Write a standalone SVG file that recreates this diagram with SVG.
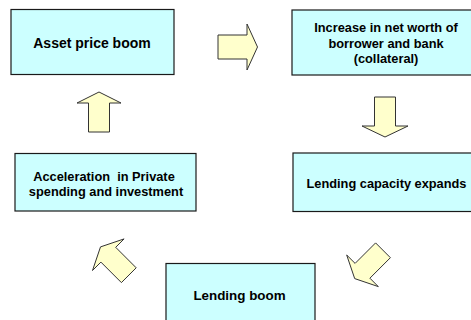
<svg xmlns="http://www.w3.org/2000/svg" width="471" height="320" viewBox="0 0 471 320">
  <style>
    .box { fill: #CCFFFF; stroke: #1a1a1a; stroke-width: 1.2; }
    .lbl { font-family: "Liberation Sans", Arial, sans-serif; font-weight: bold; font-size: 12.8px; fill: #000; text-anchor: middle; white-space: pre; }
    .arrow { fill: #FFFFCC; stroke: #333; stroke-width: 1; stroke-linejoin: miter; }
  </style>
  <rect width="471" height="320" fill="#fff"/>

  <g id="asset-price-boom">
    <rect class="box" x="11" y="9.5" width="163" height="65"/>
    <text class="lbl" x="92" y="48" style="font-size:14px">Asset price boom</text>
  </g>

  <g id="net-worth">
    <rect class="box" x="292" y="10" width="182" height="65"/>
    <text class="lbl" x="386" y="31.5">Increase in net worth of</text>
    <text class="lbl" x="386" y="47.5">borrower and bank</text>
    <text class="lbl" x="386" y="62.5">(collateral)</text>
  </g>

  <g id="lending-capacity">
    <rect class="box" x="293" y="153" width="181" height="58.5"/>
    <text class="lbl" x="386.5" y="188">Lending capacity expands</text>
  </g>

  <g id="lending-boom">
    <rect class="box" x="166" y="263.5" width="149" height="60"/>
    <text class="lbl" x="239.5" y="300" style="font-size:13.4px">Lending boom</text>
  </g>

  <g id="private-spending">
    <rect class="box" x="15" y="153.5" width="181" height="57.5"/>
    <text class="lbl" x="104" y="180.5">Acceleration  in Private</text>
    <text class="lbl" x="106" y="195.5">spending and investment</text>
  </g>

  <g id="connectors">
    <polygon class="arrow" points="218,35 247,35 247,24 257.5,47 247,70 247,59 218,59"/>
    <polygon class="arrow" points="374.5,97 395.5,97 395.5,126 408,126 385,137 362,126 374.5,126"/>
    <polygon class="arrow" points="375.6,242.9 390.4,257.7 369.9,278.2 378.3,286.6 354.7,278.6 346.7,255 355.1,263.4"/>
    <polygon class="arrow" points="136.2,267.8 115.7,247.3 124.1,238.9 100.5,246.9 92.5,270.5 100.9,262.1 121.4,282.6"/>
    <polygon class="arrow" points="88.5,132 109.5,132 109.5,103 121,103 99,92 77,103 88.5,103"/>
  </g>
</svg>
